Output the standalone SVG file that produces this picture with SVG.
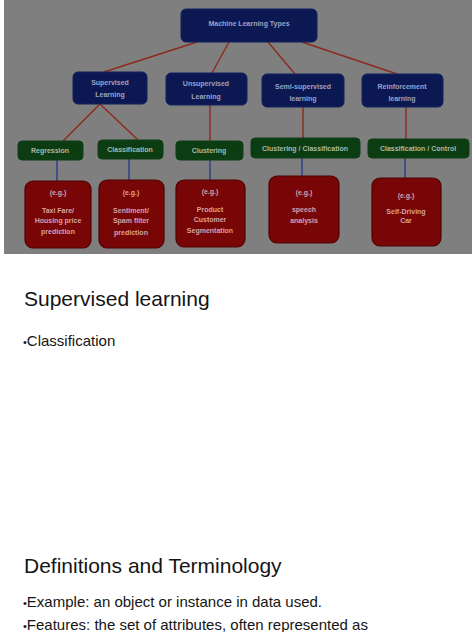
<svg xmlns="http://www.w3.org/2000/svg" width="474" height="632" viewBox="0 0 474 632">
<style>
.t{font-family:"Liberation Sans",Arial,sans-serif;font-weight:bold;font-size:7px;text-anchor:middle}
.nb{fill:#0b1852;stroke:#15225e;stroke-width:1}
.nt{fill:#9aa3c4}
.gb{fill:#0b3c12;stroke:#123f18;stroke-width:1}
.gt{fill:#a9baa9}
.rb{fill:#780606;stroke:#4d0404;stroke-width:1.2}
.rt{fill:#d6a2a2}
.lr{stroke:#8c2a1c;stroke-width:1.4;fill:none}
.lb{stroke:#2b3a8c;stroke-width:1.4;fill:none}
.body{font-family:"Liberation Sans",Arial,Helvetica,sans-serif;fill:#151515}
</style>
<rect x="0" y="0" width="474" height="632" fill="#ffffff"/>
<rect x="4" y="0" width="468" height="254" fill="#7f7f7f"/>
<g id="connectors">
<line class="lr" x1="197" y1="42" x2="104" y2="72"/>
<line class="lr" x1="229" y1="42" x2="212" y2="73"/>
<line class="lr" x1="268" y1="42" x2="295" y2="74"/>
<line class="lr" x1="302" y1="42" x2="397" y2="74"/>
<line class="lr" x1="100" y1="104" x2="63" y2="141"/>
<line class="lr" x1="100" y1="104" x2="138" y2="140"/>
<line class="lr" x1="210" y1="105" x2="210" y2="141"/>
<line class="lr" x1="303" y1="107" x2="303" y2="138"/>
<line class="lr" x1="406" y1="107" x2="406" y2="139"/>
<line class="lb" x1="57" y1="160" x2="57" y2="181"/>
<line class="lb" x1="129" y1="159" x2="129" y2="180"/>
<line class="lb" x1="210" y1="160" x2="210" y2="180"/>
<line class="lb" x1="302" y1="158" x2="302" y2="176"/>
<line class="lb" x1="405" y1="158" x2="405" y2="178"/>
</g>
<g id="root"><rect class="nb" x="181" y="9" width="136" height="33" rx="5"/><text class="t nt" x="249" y="26" font-size="7.5">Machine Learning Types</text></g>
<g id="supervised"><rect class="nb" x="73" y="72" width="74" height="32" rx="5"/><text class="t nt" x="110" y="85">Supervised</text><text class="t nt" x="110" y="97">Learning</text></g>
<g id="unsupervised"><rect class="nb" x="166" y="73" width="81" height="32" rx="5"/><text class="t nt" x="206" y="86">Unsupervised</text><text class="t nt" x="206" y="99">Learning</text></g>
<g id="semi"><rect class="nb" x="262" y="74" width="82" height="33" rx="5"/><text class="t nt" x="303" y="89">Semi-supervised</text><text class="t nt" x="303" y="101">learning</text></g>
<g id="reinforcement"><rect class="nb" x="362" y="74" width="81" height="33" rx="5"/><text class="t nt" x="402" y="89">Reinforcement</text><text class="t nt" x="402" y="101">learning</text></g>
<g id="regression"><rect class="gb" x="18" y="141" width="65" height="19" rx="4"/><text class="t gt" x="50" y="153">Regression</text></g>
<g id="classification"><rect class="gb" x="98" y="140" width="65" height="19" rx="4"/><text class="t gt" x="130" y="152">Classification</text></g>
<g id="clustering"><rect class="gb" x="176" y="141" width="67" height="19" rx="4"/><text class="t gt" x="209" y="153">Clustering</text></g>
<g id="clust-class"><rect class="gb" x="251" y="138" width="109" height="20" rx="4"/><text class="t gt" x="305" y="151">Clustering / Classification</text></g>
<g id="class-control"><rect class="gb" x="368" y="139" width="101" height="19" rx="4"/><text class="t gt" x="418" y="151">Classification / Control</text></g>
<g id="ex-regression"><rect class="rb" x="25" y="181" width="66" height="67" rx="8"/><text class="t rt" x="58" y="195">(e.g.)</text><text class="t rt" x="58" y="213">Taxi Fare/</text><text class="t rt" x="58" y="223">Housing price</text><text class="t rt" x="58" y="234">prediction</text></g>
<g id="ex-classification"><rect class="rb" x="99" y="180" width="65" height="68" rx="8"/><text class="t rt" x="131" y="195">(e.g.)</text><text class="t rt" x="131" y="213">Sentiment/</text><text class="t rt" x="131" y="223">Spam filter</text><text class="t rt" x="131" y="235">prediction</text></g>
<g id="ex-clustering"><rect class="rb" x="176" y="180" width="69" height="67" rx="8"/><text class="t rt" x="210" y="194">(e.g.)</text><text class="t rt" x="210" y="212">Product</text><text class="t rt" x="210" y="222">Customer</text><text class="t rt" x="210" y="233">Segmentation</text></g>
<g id="ex-semi"><rect class="rb" x="269" y="176" width="70" height="67" rx="8"/><text class="t rt" x="304" y="195">(e.g.)</text><text class="t rt" x="304" y="212">speech</text><text class="t rt" x="304" y="223">analysis</text></g>
<g id="ex-reinforcement"><rect class="rb" x="372" y="178" width="69" height="68" rx="8"/><text class="t rt" x="406" y="198">(e.g.)</text><text class="t rt" x="406" y="214">Self-Driving</text><text class="t rt" x="406" y="223">Car</text></g>
<text class="body" x="24" y="306" font-size="21">Supervised learning</text>
<text class="body" x="23" y="346" font-size="15"><tspan font-size="11">•</tspan>Classification</text>
<text class="body" x="24" y="573" font-size="21">Definitions and Terminology</text>
<text class="body" x="23" y="607" font-size="15"><tspan font-size="11">•</tspan>Example: an object or instance in data used.</text>
<text class="body" x="23" y="630" font-size="15"><tspan font-size="11">•</tspan>Features: the set of attributes, often represented as</text>
</svg>
